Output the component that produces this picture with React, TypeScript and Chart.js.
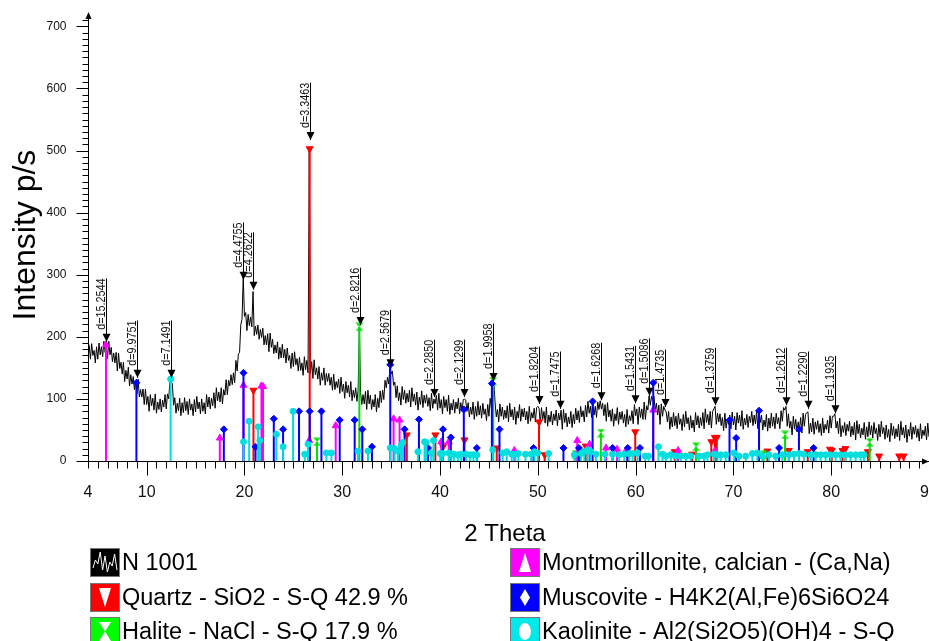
import React, { useEffect, useRef } from "react";
import { Chart, registerables } from "chart.js";

Chart.register(...registerables);

// ---------- measured trace (N 1001) ----------
// traceY: lower edge of the noisy band at 2θ = 4, 4.25 ... 90
// traceMidY: upper edge of the band at 2θ = 4.125, 4.375 ... 89.875
const traceStart = 4;
const traceStep = 0.25;
const traceY = [
  190, 164, 170, 158, 164, 171, 168, 175, 165, 171, 160, 158, 145, 149, 140, 128,
  132, 121, 124, 115, 108, 103, 103, 91, 91, 80, 89, 82, 77, 83, 79, 87,
  84, 100, 127, 90, 77, 81, 73, 78, 81, 75, 82, 73, 79, 84, 76, 80,
  76, 87, 84, 89, 85, 97, 95, 92, 106, 107, 121, 123, 126, 145, 175, 228,
  233, 210, 218, 216, 202, 204, 196, 199, 187, 187, 176, 183, 173, 174, 164, 166,
  166, 158, 162, 149, 152, 155, 145, 146, 138, 147, 142, 141, 133, 139, 132, 122,
  130, 122, 128, 122, 114, 115, 118, 109, 112, 101, 110, 103, 97, 102, 96, 215,
  91, 92, 83, 92, 83, 87, 79, 86, 94, 99, 118, 124, 140, 122, 102, 97,
  90, 99, 93, 95, 87, 96, 90, 82, 91, 86, 93, 88, 81, 85, 92, 82,
  85, 76, 86, 80, 75, 82, 77, 84, 76, 80, 100, 80, 71, 75, 67, 72,
  74, 69, 75, 65, 72, 85, 127, 71, 63, 72, 67, 69, 63, 71, 66, 59,
  69, 64, 71, 66, 60, 64, 69, 63, 88, 59, 67, 61, 56, 63, 58, 65,
  57, 66, 51, 62, 55, 60, 54, 60, 66, 62, 71, 63, 71, 77, 70, 74,
  70, 83, 84, 73, 64, 71, 64, 56, 65, 59, 67, 61, 55, 59, 65, 60,
  73, 59, 70, 67, 67, 82, 90, 97, 81, 74, 59, 72, 82, 63, 51, 55,
  57, 52, 59, 49, 55, 60, 50, 53, 47, 58, 53, 57, 52, 62, 58, 53,
  84, 59, 63, 57, 49, 53, 59, 52, 58, 50, 61, 56, 51, 58, 54, 62,
  57, 60, 52, 62, 50, 55, 48, 53, 56, 52, 60, 52, 64, 82, 56, 53,
  42, 52, 47, 50, 45, 56, 78, 44, 47, 43, 51, 46, 41, 45, 51, 45,
  53, 72, 53, 44, 39, 46, 41, 48, 39, 42, 34, 44, 37, 42, 35, 39,
  42, 37, 44, 33, 39, 44, 35, 38, 31, 41, 36, 39, 33, 42, 37, 30,
  40, 35, 43, 38, 32, 36, 41, 34, 39,
];
const traceMidY = [
  186, 189, 178, 184, 190, 184, 193, 186, 193, 183, 174, 175, 174, 159, 159, 146,
  151, 139, 136, 129, 132, 115, 116, 116, 104, 107, 101, 108, 95, 100, 98, 107,
  108, 127, 125, 102, 93, 101, 94, 102, 96, 100, 92, 99, 104, 95, 100, 94,
  107, 103, 101, 110, 118, 111, 118, 115, 131, 130, 139, 142, 162, 172, 220, 297,
  239, 236, 232, 273, 217, 219, 212, 214, 202, 205, 206, 196, 187, 192, 183, 188,
  180, 182, 170, 174, 176, 165, 167, 158, 168, 162, 505, 160, 163, 150, 152, 142,
  150, 141, 141, 135, 140, 128, 132, 135, 124, 128, 122, 128, 114, 118, 114, 110,
  107, 112, 114, 106, 99, 107, 101, 113, 114, 130, 135, 150, 145, 127, 121, 110,
  120, 114, 109, 114, 118, 108, 111, 103, 113, 106, 107, 102, 109, 100, 106, 109,
  99, 104, 99, 106, 93, 99, 95, 101, 94, 99, 98, 94, 87, 95, 88, 96,
  89, 93, 84, 91, 101, 110, 95, 83, 92, 87, 82, 89, 93, 83, 87, 80,
  91, 84, 85, 80, 88, 78, 85, 86, 85, 86, 80, 87, 74, 80, 76, 82,
  77, 82, 83, 77, 71, 80, 75, 85, 81, 88, 81, 90, 96, 88, 93, 88,
  95, 97, 93, 91, 94, 82, 84, 76, 86, 79, 80, 75, 83, 73, 81, 91,
  84, 87, 84, 95, 89, 105, 104, 104, 93, 90, 92, 88, 79, 80, 71, 78,
  72, 77, 68, 75, 80, 70, 73, 66, 78, 73, 70, 78, 84, 75, 80, 80,
  88, 77, 76, 70, 77, 67, 74, 79, 72, 78, 74, 81, 69, 75, 72, 80,
  74, 80, 83, 74, 66, 75, 69, 77, 71, 77, 70, 81, 86, 88, 76, 64,
  72, 67, 63, 70, 77, 75, 79, 61, 69, 63, 65, 60, 69, 59, 66, 73,
  72, 76, 64, 69, 57, 62, 59, 64, 56, 62, 65, 59, 53, 62, 55, 63,
  57, 62, 53, 59, 64, 54, 58, 51, 61, 56, 52, 59, 64, 54, 58, 51,
  62, 55, 57, 52, 60, 50, 56, 61,
];

// ---------- reference patterns (2θ, intensity) ----------
const quartzTheta = [20.92, 26.67, 36.6, 39.52, 40.3, 42.5, 45.8, 50.12, 50.7, 54.9, 59.96, 64.0, 65.78, 67.74, 68.1, 68.3, 73.47, 75.66, 77.6, 79.87, 80.05, 81.15, 81.45, 83.75, 84.9, 86.95, 87.4];
const quartzI = [114, 503, 42, 42, 23, 34, 21, 63, 10, 24, 47, 15, 11, 31, 38, 38, 16, 17, 15, 19, 17, 17, 20, 15, 8, 8, 8];

const haliteTheta = [27.42, 31.75, 45.44, 53.87, 56.45, 66.18, 73.1, 75.28, 83.94];
const haliteI = [31, 216, 128, 11, 45, 23, 10, 42, 30];

const montTheta = [5.84, 17.48, 19.9, 21.74, 21.9, 26.62, 29.33, 35.25, 35.86, 40.12, 40.9, 47.6, 54.03, 55.3, 56.97, 58.1, 59.1, 61.8, 64.35, 68.1];
const montI = [187, 37, 122, 121, 120, 33, 57, 68, 66, 31, 31, 17, 33, 27, 21, 19, 19, 82, 17, 16];

const muscTheta = [8.95, 17.89, 19.9, 21.13, 23.0, 23.95, 25.58, 26.67, 27.87, 29.74, 31.27, 32.05, 33.04, 34.91, 36.37, 37.84, 38.77, 40.3, 41.1, 42.43, 43.76, 45.3, 46.08, 49.56, 52.62, 54.2, 55.6, 57.64, 59.2, 60.44, 61.8, 69.6, 70.28, 72.62, 74.67, 76.7, 78.2];
const muscI = [126, 51, 142, 23, 68, 51, 80, 80, 80, 66, 66, 51, 23, 155, 51, 67, 21, 51, 38, 83, 21, 125, 51, 21, 21, 21, 96, 21, 21, 21, 126, 66, 37, 81, 21, 51, 21];

const kaolTheta = [12.45, 19.9, 20.48, 21.4, 21.57, 23.27, 23.95, 24.97, 26.16, 26.5, 28.38, 28.89, 31.61, 32.63, 34.91, 35.35, 35.69, 36.03, 36.2, 37.74, 38.42, 38.59, 39.1, 39.33, 40.02, 40.28, 40.9, 41.14, 41.41, 41.82, 42.16, 42.67, 43.08, 43.42, 43.76, 45.39, 46.41, 46.82, 47.33, 47.71, 48.01, 48.73, 49.31, 49.65, 49.98, 51.1, 53.73, 54.41, 54.75, 55.09, 55.43, 55.94, 56.87, 57.64, 58.32, 58.84, 59.35, 59.69, 60.2, 60.98, 61.32, 62.34, 62.75, 63.09, 63.6, 64.11, 64.62, 65.13, 65.64, 66.5, 67.0, 67.35, 68.03, 68.37, 68.71, 69.22, 70.07, 70.58, 71.26, 71.94, 72.45, 72.96, 73.64, 74.32, 75.0, 75.68, 76.19, 76.7, 77.21, 77.9, 78.41, 78.92, 79.43, 79.94, 80.45, 80.96, 81.47, 81.98, 82.5, 83.01, 83.35];
const kaolI = [132, 31, 64, 55, 33, 43, 23, 80, 11, 27, 13, 13, 16, 16, 21, 20, 16, 25, 30, 15, 31, 30, 13, 33, 12, 12, 13, 11, 11, 10, 11, 11, 10, 10, 10, 18, 13, 15, 11, 11, 12, 11, 11, 15, 13, 12, 10, 12, 15, 18, 15, 11, 11, 11, 10, 11, 12, 12, 13, 8, 8, 23, 11, 8, 10, 8, 8, 8, 8, 8, 8, 10, 11, 10, 10, 10, 13, 8, 8, 12, 13, 8, 10, 8, 10, 10, 11, 12, 11, 10, 10, 10, 10, 10, 10, 10, 10, 10, 10, 10, 10];

// ---------- peak search labels ----------
const dLabels = ["15.2544", "9.9751", "7.1491", "4.4755", "4.2622", "3.3463", "2.8216", "2.5679", "2.2850", "2.1299", "1.9958", "1.8204", "1.7475", "1.6268", "1.5431", "1.5086", "1.4735", "1.3759", "1.2612", "1.2290", "1.1935"];
const dTheta = [5.84, 8.98, 12.48, 19.87, 20.84, 26.68, 31.78, 34.92, 39.43, 42.43, 45.46, 50.09, 52.31, 56.46, 59.9, 61.4, 63.0, 68.11, 75.36, 77.64, 80.37];
const dTip = [192, 134, 134, 292, 276, 517, 219, 151, 103, 103, 129, 92, 84, 98, 93, 105, 87, 90, 90, 84, 77];

// ---------- axes ----------
const xTickLabels = [4, 10, 20, 30, 40, 50, 60, 70, 80, 90];
const yTickLabels = [0, 100, 200, 300, 400, 500, 600, 700];
const xMin = 4, xMax = 90, yMin = 0, yMax = 720;

const legendLabels = [
  "N 1001",
  "Quartz - SiO2 - S-Q 42.9 %",
  "Halite - NaCl - S-Q 17.9 %",
  "Montmorillonite, calcian - (Ca,Na)",
  "Muscovite - H4K2(Al,Fe)6Si6O24",
  "Kaolinite - Al2(Si2O5)(OH)4 - S-Q",
];

const C_QUARTZ = "#ff0000";
const C_HALITE = "#00e000";
const C_MONT = "#ff00ff";
const C_MUSC = "#0000ff";
const C_KAOL = "#00dede";
const FONT = '"Liberation Sans", Arial, sans-serif';

function stickData(theta: number[], inten: number[]) {
  const d: { x: number; y: number | null }[] = [];
  theta.forEach((t, i) => {
    d.push({ x: t, y: 0 });
    d.push({ x: t, y: inten[i] });
    d.push({ x: t, y: null });
  });
  return d;
}

function hourglass(color: string) {
  const c = document.createElement("canvas");
  c.width = 9;
  c.height = 9;
  const g = c.getContext("2d")!;
  g.fillStyle = color;
  g.beginPath();
  g.moveTo(0.5, 0.5);
  g.lineTo(8.5, 0.5);
  g.lineTo(4.5, 4.5);
  g.closePath();
  g.fill();
  g.beginPath();
  g.moveTo(0.5, 8.5);
  g.lineTo(8.5, 8.5);
  g.lineTo(4.5, 4.5);
  g.closePath();
  g.fill();
  return c;
}

const xrdPlugin = {
  id: "xrdDecor",
  afterDatasetsDraw(chart: any) {
    const { ctx, chartArea, scales } = chart;
    const xs = scales.x;
    const ys = scales.y;
    ctx.save();

    // peak-search arrows and labels
    ctx.font = "12px " + FONT;
    for (let i = 0; i < dLabels.length; i++) {
      const px = Math.round(xs.getPixelForValue(dTheta[i])) + 0.5;
      const tip = ys.getPixelForValue(dTip[i]);
      const text = "d=" + dLabels[i];
      const tw = ctx.measureText(text).width * 0.9;
      const top = tip - tw - 12;
      ctx.strokeStyle = "#000";
      ctx.lineWidth = 1;
      ctx.beginPath();
      ctx.moveTo(px, top);
      ctx.lineTo(px, tip);
      ctx.stroke();
      ctx.fillStyle = "#000";
      ctx.beginPath();
      ctx.moveTo(px - 4, tip - 8);
      ctx.lineTo(px + 4, tip - 8);
      ctx.lineTo(px, tip);
      ctx.closePath();
      ctx.fill();
      ctx.save();
      ctx.translate(px - 1.5, top);
      ctx.rotate(-Math.PI / 2);
      ctx.scale(0.9, 1);
      ctx.textAlign = "right";
      ctx.textBaseline = "alphabetic";
      ctx.fillStyle = "#111";
      ctx.fillText(text, 0, 0);
      ctx.restore();
    }

    // axes
    const x0 = Math.round(xs.getPixelForValue(xMin)) + 0.5;
    const y0 = Math.round(ys.getPixelForValue(yMin)) + 0.5;
    ctx.strokeStyle = "#000";
    ctx.fillStyle = "#000";
    ctx.lineWidth = 1;
    ctx.beginPath();
    ctx.moveTo(x0, y0);
    ctx.lineTo(x0, chartArea.top);
    ctx.moveTo(x0, y0);
    ctx.lineTo(chartArea.right, y0);
    ctx.stroke();
    ctx.beginPath();
    ctx.moveTo(x0, chartArea.top - 2);
    ctx.lineTo(x0 - 3, chartArea.top + 5);
    ctx.lineTo(x0 + 3, chartArea.top + 5);
    ctx.closePath();
    ctx.fill();
    ctx.beginPath();
    ctx.moveTo(chartArea.right, y0);
    ctx.lineTo(chartArea.right - 7, y0 - 3);
    ctx.lineTo(chartArea.right - 7, y0 + 3);
    ctx.closePath();
    ctx.fill();

    ctx.beginPath();
    for (let v = yMin; v <= 710; v += 10) {
      const py = Math.round(ys.getPixelForValue(v)) + 0.5;
      const len = v % 100 === 0 ? 12 : 6;
      ctx.moveTo(x0 - len, py);
      ctx.lineTo(x0, py);
    }
    for (let v = xMin; v <= 89; v += 1) {
      const px = Math.round(xs.getPixelForValue(v)) + 0.5;
      const len = v % 10 === 0 ? 14 : 7;
      ctx.moveTo(px, y0);
      ctx.lineTo(px, y0 + len);
    }
    ctx.stroke();

    ctx.fillStyle = "#111";
    ctx.font = "12px " + FONT;
    ctx.textAlign = "right";
    ctx.textBaseline = "middle";
    yTickLabels.forEach((v) => {
      ctx.fillText(String(v), x0 - 22, ys.getPixelForValue(v));
    });
    ctx.font = "16px " + FONT;
    ctx.textAlign = "center";
    xTickLabels.forEach((v) => {
      ctx.fillText(String(v), xs.getPixelForValue(v), y0 + 31);
    });

    // axis titles
    ctx.fillStyle = "#000";
    ctx.font = "24px " + FONT;
    ctx.textAlign = "center";
    ctx.textBaseline = "alphabetic";
    ctx.fillText("2 Theta", 505, 541);
    ctx.save();
    ctx.translate(35, 235);
    ctx.rotate(-Math.PI / 2);
    ctx.font = "32px " + FONT;
    ctx.textAlign = "center";
    ctx.fillText("Intensity p/s", 0, 0);
    ctx.restore();

    // legend
    const rows = [548, 583, 617];
    const cols = [90, 510];
    const boxW = 30, boxH = 29;
    const fills = ["#000000", C_QUARTZ, "#00ff00", C_MONT, C_MUSC, "#00e8e8"];
    for (let k = 0; k < 6; k++) {
      const bx = cols[k < 3 ? 0 : 1];
      const by = rows[k % 3];
      ctx.fillStyle = fills[k];
      ctx.fillRect(bx, by, boxW, boxH);
      ctx.strokeStyle = "#777";
      ctx.lineWidth = 1;
      ctx.strokeRect(bx + 0.5, by + 0.5, boxW - 1, boxH - 1);
      const cx = bx + boxW / 2, cy = by + boxH / 2;
      ctx.fillStyle = "#fff";
      ctx.strokeStyle = "#fff";
      ctx.beginPath();
      if (k === 0) {
        ctx.lineWidth = 1;
        const zz = [20, 12, 16, 4, 22, 8, 24, 14, 18, 6, 22];
        zz.forEach((yy, j) => {
          const xx = bx + 3 + j * 2.4;
          if (j === 0) ctx.moveTo(xx, by + yy);
          else ctx.lineTo(xx, by + yy);
        });
        ctx.stroke();
      } else if (k === 1) {
        ctx.moveTo(cx - 6, by + 5);
        ctx.lineTo(cx + 6, by + 5);
        ctx.lineTo(cx, by + boxH - 5);
        ctx.closePath();
        ctx.fill();
      } else if (k === 2) {
        ctx.moveTo(cx - 6, by + 5);
        ctx.lineTo(cx + 6, by + 5);
        ctx.lineTo(cx, cy);
        ctx.closePath();
        ctx.moveTo(cx - 6, by + boxH - 5);
        ctx.lineTo(cx + 6, by + boxH - 5);
        ctx.lineTo(cx, cy);
        ctx.closePath();
        ctx.fill();
      } else if (k === 3) {
        ctx.moveTo(cx - 6, by + boxH - 5);
        ctx.lineTo(cx + 6, by + boxH - 5);
        ctx.lineTo(cx, by + 5);
        ctx.closePath();
        ctx.fill();
      } else if (k === 4) {
        ctx.moveTo(cx, by + 6);
        ctx.lineTo(cx + 5, cy);
        ctx.lineTo(cx, by + boxH - 6);
        ctx.lineTo(cx - 5, cy);
        ctx.closePath();
        ctx.fill();
      } else {
        ctx.ellipse(cx, cy, 6, 8.5, 0, 0, Math.PI * 2);
        ctx.fill();
      }
      ctx.fillStyle = "#000";
      ctx.font = "23.5px " + FONT;
      ctx.textAlign = "left";
      ctx.textBaseline = "middle";
      ctx.fillText(legendLabels[k], bx + boxW + 2, cy + 1);
    }

    ctx.restore();
  },
};

export default function App() {
  const ref = useRef<HTMLCanvasElement | null>(null);

  useEffect(() => {
    document.body.style.margin = "0";
    document.body.style.overflow = "hidden";
    const canvas = ref.current;
    if (!canvas) return;

    const tracePts: { x: number; y: number }[] = [];
    traceY.forEach((y, i) => {
      const t = traceStart + i * traceStep;
      tracePts.push({ x: t, y });
      if (i < traceMidY.length) tracePts.push({ x: t + traceStep / 2, y: traceMidY[i] });
    });

    const markerRadius = (r: number) => (c: any) => {
      const raw = c.raw;
      return raw && raw.y ? r : 0;
    };

    const stick = (label: string, theta: number[], inten: number[], color: string, style: any, r: number, rotation = 0) => ({
      type: "line" as const,
      label,
      data: stickData(theta, inten),
      borderColor: color,
      backgroundColor: color,
      borderWidth: 2,
      pointStyle: style,
      pointRotation: rotation,
      pointRadius: markerRadius(r),
      pointBorderWidth: 1,
      pointBorderColor: color,
      pointBackgroundColor: color,
      spanGaps: false,
      tension: 0,
      order: 1,
    });

    const chart = new Chart(canvas, {
      type: "line",
      data: {
        datasets: [
          stick("Kaolinite", kaolTheta, kaolI, C_KAOL, "circle", 3),
          stick("Muscovite", muscTheta, muscI, C_MUSC, "rectRot", 3.5),
          stick("Montmorillonite", montTheta, montI, C_MONT, "triangle", 4),
          stick("Halite", haliteTheta, haliteI, C_HALITE, hourglass(C_HALITE), 4),
          stick("Quartz", quartzTheta, quartzI, C_QUARTZ, "triangle", 4, 180),
          {
            type: "line" as const,
            label: "N 1001",
            data: tracePts,
            borderColor: "#000",
            borderWidth: 1,
            pointRadius: 0,
            tension: 0,
            order: 10,
          },
        ] as any,
      },
      options: {
        animation: false,
        responsive: false,
        devicePixelRatio: 1,
        events: [],
        layout: { padding: { left: 88, right: 0, top: 14, bottom: 180 } },
        scales: {
          x: { type: "linear", min: xMin, max: xMax, display: false },
          y: { type: "linear", min: yMin, max: yMax, display: false },
        },
        plugins: {
          legend: { display: false },
          tooltip: { enabled: false },
          title: { display: false },
        },
      },
      plugins: [xrdPlugin],
    });

    return () => chart.destroy();
  }, []);

  return (
    <div style={{ width: 929, height: 641, background: "#fff" }}>
      <canvas ref={ref} width={929} height={641} style={{ display: "block", width: 929, height: 641 }} />
    </div>
  );
}
